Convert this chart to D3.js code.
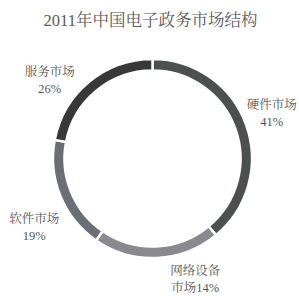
<!DOCTYPE html>
<html>
<head>
<meta charset="utf-8">
<script src="https://cdn.jsdelivr.net/npm/d3@7"></script>
<style>
  html, body { margin: 0; padding: 0; background: #fff; }
  svg text { font-family: "Liberation Serif", "Noto Serif CJK SC", "Noto Sans CJK SC", serif; fill: #555; }
</style>
</head>
<body>
<svg id="chart" width="299" height="296"></svg>
<script>
// 数据
var title = "2011年中国电子政务市场结构";
var categories = ["硬件市场", "网络设备市场", "软件市场", "服务市场"];
var percents = [41, 14, 19, 26];               // 标注的百分比
var arcShares = [39, 20.6, 18.4, 22];           // 原图中圆环各段实际所占比例
var colors = ["#4c5150", "#8a8a8e", "#6a6e77", "#383838"];

var width = 299, height = 296;
var cx = 152.5, cy = 158.5;
var outerR = 99.5, innerR = 88;

var svg = d3.select("#chart");

svg.append("text")
    .attr("x", width / 2 + 1)
    .attr("y", 26)
    .attr("text-anchor", "middle")
    .style("font-size", "16.5px")
    .style("fill", "#5a5a5a")
    .text(title);

var data = categories.map(function (c, i) {
    return {name: c, pct: percents[i], share: arcShares[i], color: colors[i]};
});

var pie = d3.pie()
    .sort(null)
    .value(function (d) { return d.share; });

var arc = d3.arc()
    .innerRadius(innerR)
    .outerRadius(outerR);

var G = svg.append("g")
    .attr("transform", "translate(" + cx + "," + cy + ")");

var arcs = pie(data);

G.selectAll(".slice")
    .data(arcs)
    .enter()
    .append("path")
    .attr("class", "slice")
    .attr("d", arc)
    .attr("fill", function (d) { return d.data.color; })
    .attr("stroke", "#fff")
    .attr("stroke-width", 2.5);

// 标签：沿外圈的位置，再做少量偏移
var labelArc = d3.arc().innerRadius(130).outerRadius(130);
var nudge = [[-3, -2], [37, -10], [2, 19], [-20, 21]];

var labels = G.selectAll(".label")
    .data(arcs)
    .enter()
    .append("text")
    .attr("class", "label")
    .attr("text-anchor", "middle")
    .style("font-size", "12.5px")
    .attr("transform", function (d, i) {
        var c = labelArc.centroid(d);
        return "translate(" + (c[0] + nudge[i][0]) + "," + (c[1] + nudge[i][1]) + ")";
    });

labels.append("tspan")
    .attr("x", 0)
    .attr("dy", "-0.3em")
    .text(function (d) {
        return d.data.name.length > 4 ? d.data.name.slice(0, 4) : d.data.name;
    });

labels.append("tspan")
    .attr("x", 0)
    .attr("dy", "1.38em")
    .text(function (d) {
        var rest = d.data.name.length > 4 ? d.data.name.slice(4) : "";
        return rest + d.data.pct + "%";
    });
</script>
</body>
</html>
